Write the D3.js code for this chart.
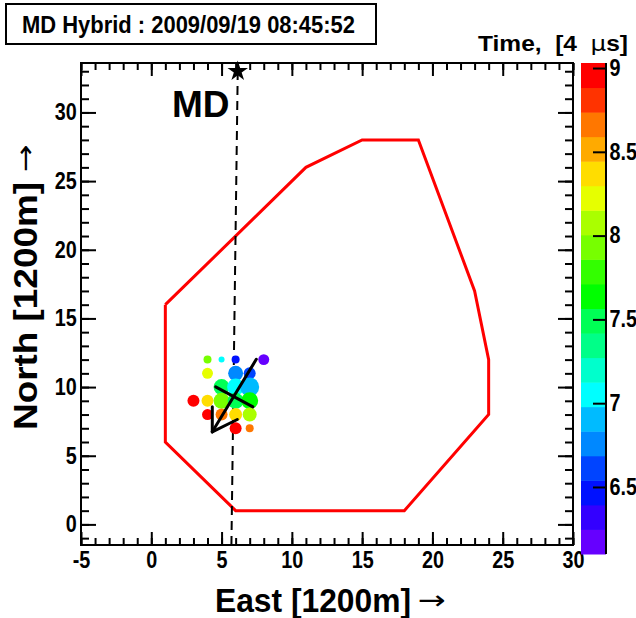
<!DOCTYPE html>
<html>
<head>
<meta charset="utf-8">
<script src="https://cdn.jsdelivr.net/npm/d3@7"></script>
<style>
  body { margin: 0; background: #fff; }
  svg { display: block; font-family: "Liberation Sans", Arial, sans-serif; }
  .axis text { font-size: 23px; font-weight: bold; fill: #000; }
  .axis line { stroke: #000; stroke-width: 2; }
  .axis .domain { display: none; }
  .arrow { font-family: "DejaVu Sans", sans-serif; font-weight: normal; }
</style>
</head>
<body>
<div id="chart"></div>
<script>
// Array border (units of 1200 m)
var borderX = [1, 1, 6, 18, 24, 24, 23, 19, 15, 11, 1];
var borderY = [16, 6, 1, 1, 8, 12, 17, 28, 28, 26, 16];

// Hit detectors: position, time [4 us], charge
var hitX = [4, 5, 6, 8, 4, 6, 7, 5, 6, 7, 3, 4, 5, 6, 7, 4, 5, 6, 7, 6, 7];
var hitY = [12, 12, 12, 12, 11, 11, 11, 10, 10, 10, 9, 9, 9, 9, 9, 8, 8, 8, 8, 7, 7];
var hitTime = [7.95, 7.05, 6.5, 6.15, 8.25, 6.75, 6.6, 7.5, 7.1, 6.9, 9.0, 8.35, 7.9, 7.45, 7.6, 8.95, 8.65, 8.4, 8.05, 8.9, 8.7];
var hitCharge = [16, 9, 16, 30, 30, 56, 36, 64, 72, 90, 36, 36, 64, 64, 72, 30, 36, 42, 49, 36, 16];

// Reconstructed core direction
var arrowFrom = [7.47, 12.02];
var arrowTo = [4.34, 6.74];
var wingA = [4.34, 8.56];
var wingB = [6.12, 7.64];
var crossA = [4.58, 10.02];
var crossB = [7.23, 8.56];

// MD station and its line
var mdLineX = [5.7, 6.15];
var mdLineY = [-1.5, 33];

var xTicks = [-5, 0, 5, 10, 15, 20, 25, 30];
var yTicks = [0, 5, 10, 15, 20, 25, 30];
var zTicks = [6.5, 7, 7.5, 8, 8.5, 9];
var zMin = 6.1, zMax = 9.03, nBands = 20;
var palette = ['#6600ff', '#3300ff', '#0011ff', '#0044ff', '#0088ff', '#00bbff', '#00ffff',
  '#00ffcc', '#00ff88', '#00ff55', '#00ff00', '#33ff00', '#77ff00', '#aaff00', '#e6ff00',
  '#ffdd00', '#ffaa00', '#ff7700', '#ff3300', '#ff0000'];

var W = 636, H = 618;
var frame = { left: 81, right: 573, top: 63, bottom: 545 };

var svg = d3.select('#chart').append('svg').attr('width', W).attr('height', H);

var xScale = d3.scaleLinear().domain([-5, 30]).range([frame.left, frame.right]);
var yScale = d3.scaleLinear().domain([-1.5, 33.6]).range([frame.bottom, frame.top]);
var zScale = d3.scaleLinear().domain([zMin, zMax]).range([554, 63]);
var rScale = d3.scaleSqrt().domain([0, 100]).range([0, 10]);

var fmt = d => String(d);

var bandColor = function(t) {
  var i = Math.floor((t - zMin) / ((zMax - zMin) / nBands));
  return palette[Math.max(0, Math.min(nBands - 1, i))];
};

// narrow the labels a bit, like the ROOT rendering
var squeeze = function(sel) {
  sel.selectAll('text').attr('transform', 'scale(0.86,1)');
};

// Title box
svg.append('rect')
  .attr('x', 6).attr('y', 4).attr('width', 370).attr('height', 40)
  .attr('fill', '#fff').attr('stroke', '#000').attr('stroke-width', 2);
svg.append('text')
  .attr('x', 22).attr('y', 33)
  .attr('font-size', 24).attr('font-weight', 'bold')
  .attr('textLength', 333).attr('lengthAdjust', 'spacingAndGlyphs')
  .text('MD Hybrid : 2009/09/19 08:45:52');

// Axes (ticks drawn inward, ROOT style)
var plot = svg.append('g');

plot.append('g').attr('class', 'axis')
  .attr('transform', 'translate(0,' + frame.bottom + ')')
  .call(d3.axisBottom(xScale).tickValues(d3.range(-5, 31, 1)).tickSize(-7).tickFormat(''));
plot.append('g').attr('class', 'axis')
  .attr('transform', 'translate(0,' + frame.bottom + ')')
  .call(d3.axisBottom(xScale).tickValues(xTicks).tickSize(-13).tickPadding(6).tickFormat(fmt))
  .call(squeeze)
  .selectAll('text').attr('dy', '0.75em');
plot.append('g').attr('class', 'axis')
  .attr('transform', 'translate(0,' + frame.top + ')')
  .call(d3.axisTop(xScale).tickValues(d3.range(-5, 31, 1)).tickSize(-7).tickFormat(''));
plot.append('g').attr('class', 'axis')
  .attr('transform', 'translate(0,' + frame.top + ')')
  .call(d3.axisTop(xScale).tickValues(xTicks).tickSize(-13).tickFormat(''));

plot.append('g').attr('class', 'axis')
  .attr('transform', 'translate(' + frame.left + ',0)')
  .call(d3.axisLeft(yScale).tickValues(d3.range(-1, 34, 1)).tickSize(-8).tickFormat(''));
plot.append('g').attr('class', 'axis')
  .attr('transform', 'translate(' + frame.left + ',0)')
  .call(d3.axisLeft(yScale).tickValues(yTicks).tickSize(-15).tickPadding(5).tickFormat(fmt))
  .call(squeeze);
plot.append('g').attr('class', 'axis')
  .attr('transform', 'translate(' + frame.right + ',0)')
  .call(d3.axisRight(yScale).tickValues(d3.range(-1, 34, 1)).tickSize(-8).tickFormat(''));
plot.append('g').attr('class', 'axis')
  .attr('transform', 'translate(' + frame.right + ',0)')
  .call(d3.axisRight(yScale).tickValues(yTicks).tickSize(-15).tickFormat(''));

plot.append('rect')
  .attr('x', frame.left).attr('y', frame.top)
  .attr('width', frame.right - frame.left).attr('height', frame.bottom - frame.top)
  .attr('fill', 'none').attr('stroke', '#000').attr('stroke-width', 2);

// Axis titles (arrow drawn as its own thin glyph)
svg.append('text')
  .attr('x', 215).attr('y', 612)
  .attr('font-size', 33).attr('font-weight', 'bold')
  .attr('textLength', 196).attr('lengthAdjust', 'spacingAndGlyphs')
  .text('East [1200m]');
svg.append('text')
  .attr('class', 'arrow')
  .attr('x', 418).attr('y', 609)
  .attr('font-size', 26)
  .attr('textLength', 28).attr('lengthAdjust', 'spacingAndGlyphs')
  .text('\u2192');
svg.append('text')
  .attr('transform', 'translate(37,430) rotate(-90)')
  .attr('font-size', 33).attr('font-weight', 'bold')
  .attr('textLength', 248).attr('lengthAdjust', 'spacingAndGlyphs')
  .text('North [1200m]');
svg.append('text')
  .attr('class', 'arrow')
  .attr('transform', 'translate(34,172) rotate(-90)')
  .attr('font-size', 26)
  .attr('textLength', 28).attr('lengthAdjust', 'spacingAndGlyphs')
  .text('\u2192');

// Border polygon
var line = d3.line()
  .x(function(d, i) { return xScale(borderX[i]); })
  .y(function(d, i) { return yScale(borderY[i]); });
plot.append('path')
  .attr('d', line(borderX))
  .attr('fill', 'none').attr('stroke', '#ff0000').attr('stroke-width', 3)
  .attr('stroke-linejoin', 'miter');

// MD line and star
plot.append('line')
  .attr('x1', xScale(mdLineX[0])).attr('y1', yScale(mdLineY[0]))
  .attr('x2', xScale(mdLineX[1])).attr('y2', yScale(mdLineY[1]))
  .attr('stroke', '#000').attr('stroke-width', 2).attr('stroke-dasharray', '9,6');
plot.append('path')
  .attr('d', d3.symbol(d3.symbolStar, 130)())
  .attr('transform', 'translate(' + xScale(mdLineX[1]) + ',' + yScale(mdLineY[1]) + ')')
  .attr('fill', '#000');
plot.append('text')
  .attr('x', 172).attr('y', 117)
  .attr('font-size', 37).attr('font-weight', 'bold')
  .text('MD');

// Hits
plot.append('g').selectAll('circle')
  .data(hitX)
  .enter()
  .append('circle')
  .attr('cx', function(d, i) { return xScale(hitX[i]); })
  .attr('cy', function(d, i) { return yScale(hitY[i]); })
  .attr('r', function(d, i) { return rScale(hitCharge[i]); })
  .attr('fill', function(d, i) { return bandColor(hitTime[i]); });

// Direction arrow and perpendicular
var seg = function(a, b) {
  plot.append('line')
    .attr('x1', xScale(a[0])).attr('y1', yScale(a[1]))
    .attr('x2', xScale(b[0])).attr('y2', yScale(b[1]))
    .attr('stroke', '#000').attr('stroke-width', 3).attr('stroke-linecap', 'round');
};
seg(arrowFrom, arrowTo);
seg(arrowTo, wingA);
seg(arrowTo, wingB);
seg(crossA, crossB);

// Colour bar
var dz = (zMax - zMin) / nBands;
var bar = svg.append('g');
bar.selectAll('rect')
  .data(palette)
  .enter()
  .append('rect')
  .attr('x', 581).attr('width', 25)
  .attr('y', function(d, i) { return zScale(zMin + (i + 1) * dz); })
  .attr('height', function(d, i) { return zScale(zMin + i * dz) - zScale(zMin + (i + 1) * dz) + 0.5; })
  .attr('fill', function(d) { return d; });
bar.append('g').attr('class', 'axis')
  .attr('transform', 'translate(606,0)')
  .call(d3.axisRight(zScale).tickValues(zTicks).tickSize(-13).tickPadding(4).tickFormat(fmt))
  .call(squeeze);
bar.append('line')
  .attr('x1', 606).attr('x2', 606).attr('y1', 63).attr('y2', 554)
  .attr('stroke', '#000').attr('stroke-width', 2);

var zTitle = svg.append('text')
  .attr('x', 478).attr('y', 51)
  .attr('font-size', 22).attr('font-weight', 'bold')
  .attr('xml:space', 'preserve')
  .attr('textLength', 150).attr('lengthAdjust', 'spacingAndGlyphs')
  .text('Time,  [4  ');
zTitle.append('tspan').attr('class', 'arrow').text('\u00b5');
zTitle.append('tspan').text('s]');
</script>
</body>
</html>
